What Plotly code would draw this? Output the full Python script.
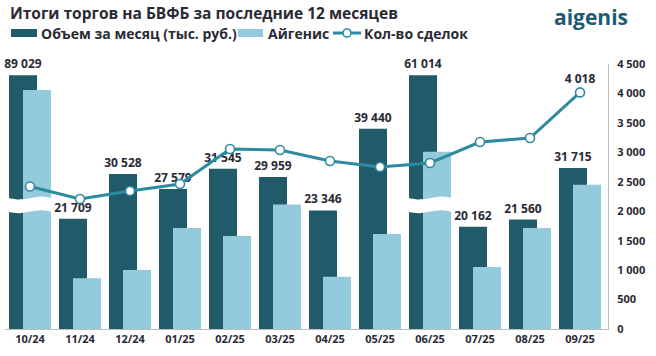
import numpy as np
import plotly.graph_objects as go

months = ["10/24", "11/24", "12/24", "01/25", "02/25", "03/25", "04/25",
          "05/25", "06/25", "07/25", "08/25", "09/25"]
volume = [89029, 21709, 30528, 27579, 31545, 29959, 23346, 39440, 61014, 20162, 21560, 31715]
aigenis = [47100, 10000, 11600, 19900, 18300, 24500, 10300, 18700, 34900, 12200, 19900, 28400]
deals = [2420, 2208, 2343, 2462, 3057, 3040, 2853, 2751, 2819, 3175, 3243, 4018]
broken = ["10/24", "06/25"]
series_names = ["Объем за месяц (тыс. руб.)", "Айгенис", "Кол-во сделок"]

BREAK_CAP = 50000
DARK = "#215a69"
LIGHT = "#93cbdc"
LINE = "#2e8aa0"
TXT = "#2a2a35"
FONT = "Open Sans"

W, H = 656, 356
ML, MR, MT, MB = 5, 48, 64, 27
PW, PH = W - ML - MR, H - MT - MB
px = lambda v: (v - ML) / PW          # pixel x -> paper x
py = lambda v: (H - MB - v) / PH      # pixel y -> paper y

x = np.arange(len(months))
vol_disp = [min(v, BREAK_CAP) for v in volume]
fmt = lambda v: f"{v:,}".replace(",", " ")

fig = go.Figure()
fig.add_trace(go.Bar(
    x=x, y=vol_disp, name=series_names[0], showlegend=False,
    marker=dict(color=DARK, line=dict(width=0)),
    width=0.56, offset=-0.42,
    text=[fmt(v) for v in volume], textposition="outside",
    textfont=dict(family=FONT, size=12, color=TXT, weight="bold"),
    constraintext="none", cliponaxis=False, textangle=0,
))
fig.add_trace(go.Bar(
    x=x, y=aigenis, name=series_names[1], showlegend=False,
    marker=dict(color=LIGHT, line=dict(width=0)),
    width=0.56, offset=-0.14,
))

# break marks (white wavy bands) over broken categories
for m in broken:
    c = months.index(m)
    xs = np.linspace(c - 0.47, c + 0.47, 40)
    wave = 300 * np.sin((xs - c) * 2 * np.pi / 0.9)
    top = 25800 + wave
    bot = 23100 + wave
    fig.add_trace(go.Scatter(
        x=np.concatenate([xs, xs[::-1]]), y=np.concatenate([top, bot[::-1]]),
        fill="toself", fillcolor="white", line=dict(width=0, color="white"),
        mode="lines", showlegend=False, hoverinfo="skip",
    ))

fig.add_trace(go.Scatter(
    x=x, y=deals, name=series_names[2], yaxis="y2", showlegend=False,
    mode="lines+markers+text",
    line=dict(color=LINE, width=3),
    marker=dict(symbol="circle", size=9, color="white", line=dict(color=LINE, width=1.6)),
    text=[""] * (len(deals) - 1) + [fmt(deals[-1])],
    textposition="top center",
    textfont=dict(family=FONT, size=12, color=TXT, weight="bold"),
    cliponaxis=False,
))

# custom legend
shapes = [
    dict(type="rect", xref="paper", yref="paper", x0=px(11), x1=px(37), y0=py(37), y1=py(29),
         fillcolor=DARK, line=dict(width=0)),
    dict(type="rect", xref="paper", yref="paper", x0=px(238), x1=px(263), y0=py(37), y1=py(29),
         fillcolor=LIGHT, line=dict(width=0)),
    dict(type="line", xref="paper", yref="paper", x0=px(333), x1=px(361), y0=py(33), y1=py(33),
         line=dict(color=LINE, width=3)),
    dict(type="circle", xref="paper", yref="paper", x0=px(343), x1=px(351), y0=py(37), y1=py(29),
         fillcolor="white", line=dict(color=LINE, width=1.6)),
]
leg_font = dict(family=FONT, size=14, color=TXT, weight="bold")
annotations = [
    dict(text=series_names[0], x=px(39), y=py(33), xref="paper", yref="paper",
         xanchor="left", yanchor="middle", showarrow=False, font=leg_font),
    dict(text=series_names[1], x=px(266), y=py(33), xref="paper", yref="paper",
         xanchor="left", yanchor="middle", showarrow=False, font=leg_font),
    dict(text=series_names[2], x=px(362), y=py(33), xref="paper", yref="paper",
         xanchor="left", yanchor="middle", showarrow=False, font=leg_font),
    dict(text="<b>aigenis</b>", x=px(591), y=py(1), xref="paper", yref="paper",
         xanchor="center", yanchor="top", showarrow=False,
         font=dict(family=FONT, size=21, color="#1b5b76")),
    dict(text="<b>Итоги торгов на БВФБ за последние 12 месяцев</b>", x=px(8), y=py(13),
         xref="paper", yref="paper", xanchor="left", yanchor="middle", showarrow=False,
         font=dict(family=FONT, size=15.5, color=TXT)),
]

fig.update_layout(
    width=W, height=H,
    margin=dict(l=ML, r=MR, t=MT, b=MB, autoexpand=False),
    paper_bgcolor="white", plot_bgcolor="white",
    barmode="overlay",
    font=dict(family=FONT, color=TXT),
    showlegend=False,
    xaxis=dict(range=[-0.5, 11.56], tickvals=list(x), ticktext=months,
               showgrid=False, zeroline=False, showline=True, linecolor="#bdbdbd",
               linewidth=1, ticks="", automargin=False,
               tickfont=dict(family=FONT, size=11, color=TXT, weight="bold")),
    yaxis=dict(range=[0, 52200], visible=False, showgrid=False, zeroline=False),
    yaxis2=dict(range=[0, 4500], overlaying="y", side="right",
                tickvals=list(range(0, 4501, 500)), tickformat=",d",
                separatethousands=True, showgrid=False, zeroline=False,
                showline=True, linecolor="#bdbdbd", linewidth=1, ticks="",
                ticklabelstandoff=6, automargin=False,
                tickfont=dict(family=FONT, size=11, color=TXT, weight="bold")),
    separators=", ",
    shapes=shapes,
    annotations=annotations,
)

fig.write_html("out.html", config={"displayModeBar": False},
               post_script="document.body.style.margin='0';document.body.style.padding='0';")
